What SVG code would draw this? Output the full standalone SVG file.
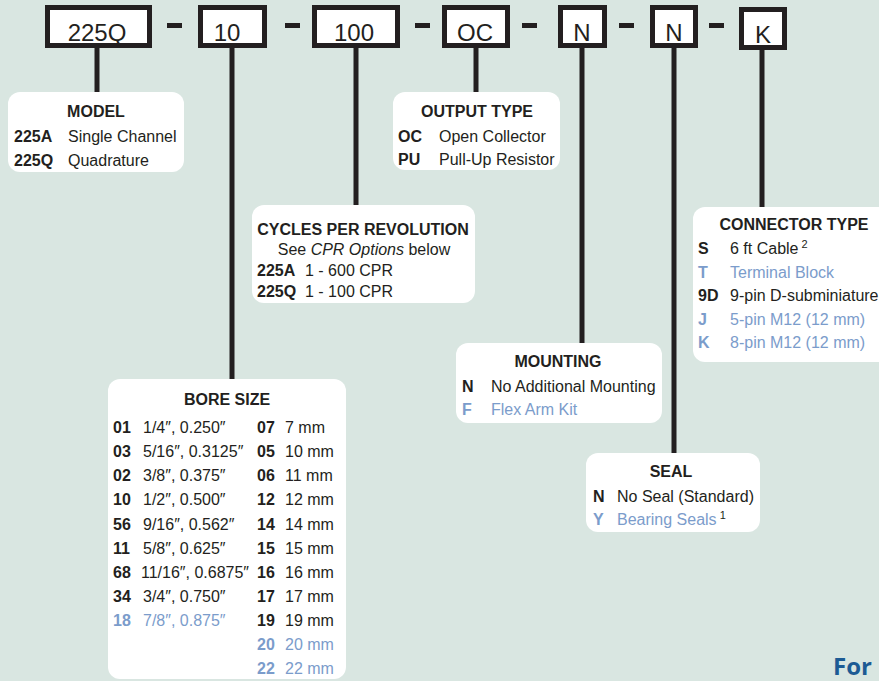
<svg xmlns="http://www.w3.org/2000/svg" width="879" height="681" viewBox="0 0 879 681">
<style>
text{font-family:"Liberation Sans",Arial,sans-serif;font-size:16px;fill:#231f20}
.b{font-weight:bold}
.c{text-anchor:middle}
.bl{fill:#7b9ccb}
.code{font-size:24px}
.box{fill:#fff}
.pn{fill:#fff;stroke:#231f20;stroke-width:5}
.dash{fill:#231f20}
.ln{stroke:#231f20;stroke-width:5;fill:none}
.sup{font-size:11px}
</style>
<rect width="879" height="681" fill="#d9e6e1"/>
<g id="connectors">
<line class="ln" x1="97" y1="46" x2="97" y2="93"/>
<line class="ln" x1="232" y1="46" x2="232" y2="380"/>
<line class="ln" x1="356" y1="46" x2="356" y2="206"/>
<line class="ln" x1="476" y1="46" x2="476" y2="93"/>
<line class="ln" x1="582" y1="46" x2="582" y2="344"/>
<line class="ln" x1="674" y1="46" x2="674" y2="454"/>
<line class="ln" x1="762" y1="48" x2="762" y2="208"/>
</g>
<g id="partnumber">
<rect class="pn" x="47.5" y="7.5" width="102" height="38"/>
<text class="code c" x="97" y="41">225Q</text>
<rect class="dash" x="167" y="23" width="15" height="5"/>
<rect class="pn" x="200.5" y="7.5" width="64" height="38"/>
<text class="code c" x="227" y="41">10</text>
<rect class="dash" x="285" y="23" width="15" height="5"/>
<rect class="pn" x="314.5" y="7.5" width="83" height="38"/>
<text class="code c" x="354" y="41">100</text>
<rect class="dash" x="415" y="23" width="15" height="5"/>
<rect class="pn" x="444.5" y="7.5" width="63" height="38"/>
<text class="code c" x="475" y="41">OC</text>
<rect class="dash" x="522" y="23" width="15" height="5"/>
<rect class="pn" x="560.5" y="7.5" width="44" height="38"/>
<text class="code c" x="582" y="41">N</text>
<rect class="dash" x="619" y="23" width="15" height="5"/>
<rect class="pn" x="652.5" y="7.5" width="43" height="38"/>
<text class="code c" x="674" y="41">N</text>
<rect class="dash" x="709" y="23" width="15" height="5"/>
<rect class="pn" x="741.5" y="9.5" width="43" height="38"/>
<text class="code c" x="763" y="43">K</text>
</g>
<g id="model">
<rect class="box" x="8" y="92" width="176" height="80" rx="12"/>
<text class="b c" x="96" y="117">MODEL</text>
<text class="b" x="14" y="142">225A</text><text x="68" y="142">Single Channel</text>
<text class="b" x="14" y="166">225Q</text><text x="68" y="166">Quadrature</text>
</g>
<g id="output">
<rect class="box" x="393" y="92" width="167" height="78" rx="12"/>
<text class="b c" x="477" y="117">OUTPUT TYPE</text>
<text class="b" x="398" y="142">OC</text><text x="439" y="142">Open Collector</text>
<text class="b" x="398" y="165">PU</text><text x="439" y="165">Pull-Up Resistor</text>
</g>
<g id="cpr">
<rect class="box" x="252" y="205" width="223" height="98" rx="12"/>
<text class="b c" x="363" y="235">CYCLES PER REVOLUTION</text>
<text class="c" x="364" y="255">See <tspan font-style="italic">CPR Options</tspan> below</text>
<text class="b" x="257" y="276">225A</text><text x="305" y="276">1 - 600 CPR</text>
<text class="b" x="257" y="297">225Q</text><text x="305" y="297">1 - 100 CPR</text>
</g>
<g id="connector">
<rect class="box" x="693" y="207" width="200" height="155" rx="12"/>
<text class="b c" x="794" y="230">CONNECTOR TYPE</text>
<text class="b" x="698" y="254">S</text><text x="730" y="254">6 ft Cable<tspan class="sup" dx="3" dy="-6">2</tspan></text>
<text class="b bl" x="698" y="278">T</text><text class="bl" x="730" y="278">Terminal Block</text>
<text class="b" x="698" y="301">9D</text><text x="730" y="301">9-pin D-subminiature</text>
<text class="b bl" x="698" y="325">J</text><text class="bl" x="730" y="325">5-pin M12 (12 mm)</text>
<text class="b bl" x="698" y="348">K</text><text class="bl" x="730" y="348">8-pin M12 (12 mm)</text>
</g>
<g id="mounting">
<rect class="box" x="456" y="343" width="206" height="80" rx="12"/>
<text class="b c" x="558" y="367">MOUNTING</text>
<text class="b" x="462" y="392">N</text><text x="491" y="392">No Additional Mounting</text>
<text class="b bl" x="462" y="415">F</text><text class="bl" x="491" y="415">Flex Arm Kit</text>
</g>
<g id="seal">
<rect class="box" x="586" y="453" width="174" height="79" rx="12"/>
<text class="b c" x="671" y="477">SEAL</text>
<text class="b" x="593" y="502">N</text><text x="617" y="502">No Seal (Standard)</text>
<text class="b bl" x="593" y="525">Y</text><text class="bl" x="617" y="525">Bearing Seals<tspan class="sup" fill="#231f20" dx="3" dy="-6">1</tspan></text>
</g>
<g id="bore">
<rect class="box" x="108" y="379" width="238" height="300" rx="12"/>
<text class="b c" x="227" y="405">BORE SIZE</text>
<text class="b" x="113" y="433">01</text><text x="143" y="433">1/4″, 0.250″</text>
<text class="b" x="113" y="457">03</text><text x="143" y="457">5/16″, 0.3125″</text>
<text class="b" x="113" y="481">02</text><text x="143" y="481">3/8″, 0.375″</text>
<text class="b" x="113" y="505">10</text><text x="143" y="505">1/2″, 0.500″</text>
<text class="b" x="113" y="530">56</text><text x="143" y="530">9/16″, 0.562″</text>
<text class="b" x="113" y="554">11</text><text x="143" y="554">5/8″, 0.625″</text>
<text class="b" x="113" y="578">68</text><text x="141" y="578">11/16″, 0.6875″</text>
<text class="b" x="113" y="602">34</text><text x="143" y="602">3/4″, 0.750″</text>
<text class="b bl" x="113" y="626">18</text><text class="bl" x="143" y="626">7/8″, 0.875″</text>
<text class="b" x="257" y="433">07</text><text x="285" y="433">7 mm</text>
<text class="b" x="257" y="457">05</text><text x="285" y="457">10 mm</text>
<text class="b" x="257" y="481">06</text><text x="285" y="481">11 mm</text>
<text class="b" x="257" y="505">12</text><text x="285" y="505">12 mm</text>
<text class="b" x="257" y="530">14</text><text x="285" y="530">14 mm</text>
<text class="b" x="257" y="554">15</text><text x="285" y="554">15 mm</text>
<text class="b" x="257" y="578">16</text><text x="285" y="578">16 mm</text>
<text class="b" x="257" y="602">17</text><text x="285" y="602">17 mm</text>
<text class="b" x="257" y="626">19</text><text x="285" y="626">19 mm</text>
<text class="b bl" x="257" y="650">20</text><text class="bl" x="285" y="650">20 mm</text>
<text class="b bl" x="257" y="674">22</text><text class="bl" x="285" y="674">22 mm</text>
</g>
<text x="833" y="675" style="font-family:'Open Sans','Noto Sans',sans-serif;font-size:24px;font-weight:bold;fill:#1d5b94">For</text>
</svg>
